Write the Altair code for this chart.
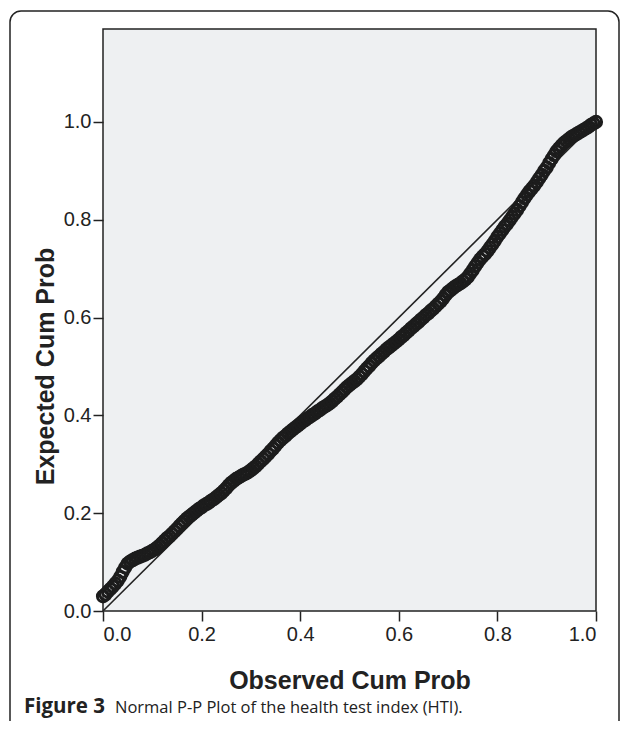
import altair as alt
import pandas as pd

# Observed cumulative probability (x) and expected cumulative probability (y)
observed = [
    0.000, 0.005, 0.010, 0.015, 0.020, 0.025, 0.030, 0.035, 0.040, 0.045,
    0.050, 0.055, 0.060, 0.065, 0.070, 0.075, 0.080, 0.085, 0.090, 0.095,
    0.100, 0.105, 0.110, 0.115, 0.120, 0.125, 0.130, 0.135, 0.140, 0.145,
    0.150, 0.155, 0.160, 0.165, 0.170, 0.175, 0.180, 0.185, 0.190, 0.195,
    0.200, 0.205, 0.210, 0.215, 0.220, 0.225, 0.230, 0.235, 0.240, 0.245,
    0.250, 0.255, 0.260, 0.265, 0.270, 0.275, 0.280, 0.285, 0.290, 0.295,
    0.300, 0.305, 0.310, 0.315, 0.320, 0.325, 0.330, 0.335, 0.340, 0.345,
    0.350, 0.355, 0.360, 0.365, 0.370, 0.375, 0.380, 0.385, 0.390, 0.395,
    0.400, 0.405, 0.410, 0.415, 0.420, 0.425, 0.430, 0.435, 0.440, 0.445,
    0.450, 0.455, 0.460, 0.465, 0.470, 0.475, 0.480, 0.485, 0.490, 0.495,
    0.500, 0.505, 0.510, 0.515, 0.520, 0.525, 0.530, 0.535, 0.540, 0.545,
    0.550, 0.555, 0.560, 0.565, 0.570, 0.575, 0.580, 0.585, 0.590, 0.595,
    0.600, 0.605, 0.610, 0.615, 0.620, 0.625, 0.630, 0.635, 0.640, 0.645,
    0.650, 0.655, 0.660, 0.665, 0.670, 0.675, 0.680, 0.685, 0.690, 0.695,
    0.700, 0.705, 0.710, 0.715, 0.720, 0.725, 0.730, 0.735, 0.740, 0.745,
    0.750, 0.755, 0.760, 0.765, 0.770, 0.775, 0.780, 0.785, 0.790, 0.795,
    0.800, 0.805, 0.810, 0.815, 0.820, 0.825, 0.830, 0.835, 0.840, 0.845,
    0.850, 0.855, 0.860, 0.865, 0.870, 0.875, 0.880, 0.885, 0.890, 0.895,
    0.900, 0.905, 0.910, 0.915, 0.920, 0.925, 0.930, 0.935, 0.940, 0.945,
    0.950, 0.955, 0.960, 0.965, 0.970, 0.975, 0.980, 0.985, 0.990, 0.995,
    1.000]
expected = [
    0.030, 0.034, 0.040, 0.045, 0.050, 0.056, 0.062, 0.070, 0.080, 0.089,
    0.097, 0.101, 0.104, 0.107, 0.109, 0.111, 0.113, 0.115, 0.118, 0.120,
    0.123, 0.126, 0.130, 0.134, 0.139, 0.144, 0.149, 0.153, 0.158, 0.163,
    0.168, 0.174, 0.179, 0.184, 0.189, 0.193, 0.197, 0.201, 0.205, 0.209,
    0.212, 0.216, 0.219, 0.222, 0.226, 0.229, 0.233, 0.237, 0.241, 0.246,
    0.251, 0.257, 0.262, 0.266, 0.270, 0.273, 0.276, 0.279, 0.281, 0.284,
    0.288, 0.292, 0.296, 0.301, 0.306, 0.311, 0.316, 0.321, 0.327, 0.332,
    0.338, 0.344, 0.349, 0.354, 0.358, 0.363, 0.367, 0.371, 0.375, 0.379,
    0.383, 0.387, 0.390, 0.394, 0.397, 0.401, 0.404, 0.408, 0.411, 0.415,
    0.418, 0.421, 0.425, 0.429, 0.434, 0.438, 0.443, 0.448, 0.453, 0.458,
    0.462, 0.466, 0.470, 0.474, 0.479, 0.484, 0.490, 0.496, 0.501, 0.507,
    0.512, 0.517, 0.521, 0.526, 0.530, 0.535, 0.539, 0.543, 0.547, 0.551,
    0.555, 0.560, 0.564, 0.569, 0.573, 0.578, 0.582, 0.587, 0.591, 0.596,
    0.600, 0.605, 0.609, 0.614, 0.618, 0.623, 0.628, 0.633, 0.639, 0.646,
    0.652, 0.656, 0.660, 0.664, 0.667, 0.670, 0.674, 0.678, 0.683, 0.690,
    0.697, 0.705, 0.712, 0.719, 0.725, 0.730, 0.736, 0.743, 0.750, 0.757,
    0.765, 0.772, 0.779, 0.786, 0.792, 0.799, 0.806, 0.813, 0.820, 0.828,
    0.836, 0.844, 0.851, 0.858, 0.864, 0.870, 0.877, 0.885, 0.892, 0.900,
    0.907, 0.916, 0.924, 0.932, 0.940, 0.946, 0.952, 0.957, 0.961, 0.965,
    0.969, 0.972, 0.975, 0.978, 0.981, 0.984, 0.987, 0.990, 0.994, 0.997,
    1.000]

diag_x = [0.0, 1.0]
diag_y = [0.0, 1.0]
tick_values = [0.0, 0.2, 0.4, 0.6, 0.8, 1.0]
caption_bold = ["Figure 3"]
caption_rest = ["Normal P-P Plot of the health test index (HTI)."]

W, H = 493, 582
INK = "#222222"

pts = pd.DataFrame({"obs": observed, "exp": expected})
diag = pd.DataFrame({"obs": diag_x, "exp": diag_y})

xscale = alt.Scale(domain=[0, 1], nice=False, zero=False)
yscale = alt.Scale(domain=[0, 1.19], nice=False, zero=False)

xaxis = alt.Axis(title="Observed Cum Prob", values=tick_values, format=".1f",
                 grid=False, domain=False, tickSize=10, tickWidth=1.5, tickColor=INK,
                 labelFont="Liberation Sans", labelFontSize=20, labelColor=INK, labelPadding=3,
                 titleFont="Liberation Sans", titleFontSize=25, titleFontWeight="bold", titleColor=INK,
                 titleY=69, titleBaseline="middle")
yaxis = alt.Axis(title="Expected Cum Prob", values=tick_values, format=".1f",
                 grid=False, domain=False, tickSize=10, tickWidth=1.5, tickColor=INK,
                 labelFont="Liberation Sans", labelFontSize=20, labelColor=INK, labelPadding=2,
                 titleFont="Liberation Sans", titleFontSize=25, titleFontWeight="bold", titleColor=INK,
                 titleX=-58, titleY=337, titleAngle=270, titleAlign="center", titleBaseline="middle")

line = alt.Chart(diag).mark_line(color=INK, strokeWidth=1.6).encode(
    x=alt.X("obs:Q", scale=xscale, axis=xaxis),
    y=alt.Y("exp:Q", scale=yscale, axis=yaxis),
)

points = alt.Chart(pts).mark_point(shape="circle", filled=False, color="#1c1c1c",
                                   strokeWidth=3, size=125, opacity=1).encode(
    x=alt.X("obs:Q", scale=xscale),
    y=alt.Y("exp:Q", scale=yscale),
)

frame = alt.Chart(pd.DataFrame({"k": [0]})).mark_rect(
    filled=False, stroke=INK, strokeWidth=1.5, cornerRadius=11, fillOpacity=0
).encode(x=alt.value(-93), x2=alt.value(516), y=alt.value(-18), y2=alt.value(720))

cap1 = alt.Chart(pd.DataFrame({"t": caption_bold})).mark_text(
    font="Open Sans", fontSize=20.5, fontWeight="bold", color=INK, align="left", baseline="alphabetic"
).encode(text="t:N", x=alt.value(-79), y=alt.value(684))

cap2 = alt.Chart(pd.DataFrame({"t": caption_rest})).mark_text(
    font="Open Sans", fontSize=16.5, color=INK, align="left", baseline="alphabetic"
).encode(text="t:N", x=alt.value(12), y=alt.value(684))

chart = alt.layer(line, points, frame, cap1, cap2).properties(
    width=W, height=H,
    autosize=alt.AutoSizeParams(type="none"),
    padding={"left": 95, "top": 21, "right": 25, "bottom": 110},
).configure_view(
    fill="#eef0f2", stroke=INK, strokeWidth=1.5
)

chart.save("out.html", embed_options={"renderer": "svg", "actions": False})
